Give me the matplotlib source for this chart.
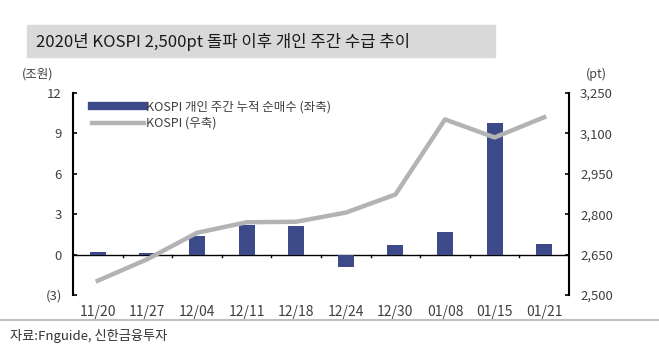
import matplotlib.pyplot as plt
import numpy as np
from matplotlib.patches import Rectangle
from matplotlib.lines import Line2D

plt.rcParams['font.family'] = ['Noto Sans CJK KR', 'DejaVu Sans']

dates = ["11/20", "11/27", "12/04", "12/11", "12/18", "12/24", "12/30", "01/08", "01/15", "01/21"]
net_buy = [0.2, 0.1, 1.4, 2.2, 2.1, -0.9, 0.7, 1.7, 9.8, 0.8]
kospi = [2553, 2633, 2731, 2770, 2772, 2806, 2873, 3152, 3085, 3160]

left_ticks = [-3, 0, 3, 6, 9, 12]
left_labels = ["(3)", "0", "3", "6", "9", "12"]
right_ticks = [2500, 2650, 2800, 2950, 3100, 3250]

bar_color = "#3d4a8a"
line_color = "#b3b3b3"
text_color = "#404040"

fig = plt.figure(figsize=(6.59, 3.56), dpi=100)

# title bar
fig.patches.append(Rectangle((27 / 659, 1 - 57 / 356), 468 / 659, 32 / 356,
                             transform=fig.transFigure, color="#d9d9d9", zorder=0))
fig.text(36 / 659, 1 - 42 / 356, "2020년 KOSPI 2,500pt 돌파 이후 개인 주간 수급 추이",
         fontsize=12, color="#1a1a1a", va="center", ha="left")

ax = fig.add_axes([73 / 659, 1 - 295 / 356, 496 / 659, 202 / 356])
x = np.arange(len(dates))
ax.bar(x, net_buy, width=0.32, color=bar_color, zorder=3)
ax.axhline(0, color="black", lw=1, zorder=2)
for b in np.arange(0.5, len(dates) - 1, 1):
    ax.plot([b, b], [0, -0.2], color="black", lw=1, zorder=2)

ax.set_xlim(-0.5, len(dates) - 0.5)
ax.set_ylim(-3, 12)
ax.set_yticks(left_ticks)
ax.set_yticklabels(left_labels)
ax.set_xticks(x)
ax.set_xticklabels(dates)
ax.tick_params(axis="x", length=0, pad=7, labelsize=10, colors=text_color)
ax.tick_params(axis="y", length=3, width=1.2, direction="in", labelsize=9.5,
               labelcolor=text_color, pad=8)
for s in ["top", "right", "bottom"]:
    ax.spines[s].set_visible(False)
ax.spines["left"].set_linewidth(1.5)

ax2 = ax.twinx()
ax2.plot(x, kospi, color=line_color, lw=3.2, zorder=4)
ax2.set_ylim(2500, 3250)
ax2.set_yticks(right_ticks)
ax2.set_yticklabels([f"{v:,}" for v in right_ticks])
ax2.tick_params(axis="y", length=3, width=1.2, direction="in", labelsize=9.5,
                labelcolor=text_color, pad=8)
for s in ["top", "left", "bottom"]:
    ax2.spines[s].set_visible(False)
ax2.spines["right"].set_linewidth(1.5)

fig.text(22 / 659, 1 - 74 / 356, "(조원)", fontsize=9, color=text_color, va="center")
fig.text(586 / 659, 1 - 74 / 356, "(pt)", fontsize=9, color=text_color, va="center")

handles = [Line2D([0], [0], color=bar_color, lw=6),
           Line2D([0], [0], color=line_color, lw=3.2)]
ax.legend(handles, ["KOSPI 개인 주간 누적 순매수 (좌축)", "KOSPI (우축)"],
          loc="upper left", bbox_to_anchor=(0.015, 1.02), frameon=False,
          fontsize=9, handlelength=4.2, handletextpad=0.15, labelspacing=0.3,
          labelcolor=text_color)

# bottom divider and source
fig.add_artist(Line2D([0, 1], [1 - 320 / 356, 1 - 320 / 356], color="#bfbfbf", lw=1.5,
                      transform=fig.transFigure))
fig.text(10 / 659, 1 - 336 / 356, "자료:Fnguide, 신한금융투자", fontsize=9.5,
         color="#333333", va="center")

fig.savefig("out.png", dpi=100)
